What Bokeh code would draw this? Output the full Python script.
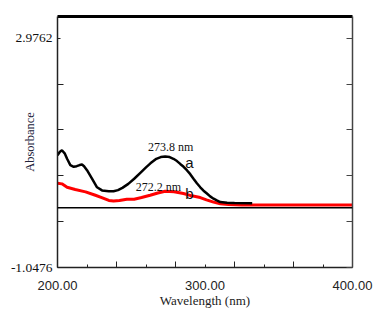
from bokeh.plotting import figure
from bokeh.models import (LinearAxis, FixedTicker, Span, ColumnDataSource, Range1d)
from bokeh.core.properties import value
from bokeh.embed import file_html
from bokeh.resources import INLINE

# Spectrum a (black)
wl_a = [200, 201.5, 203, 205, 206.5, 208.7, 211, 213, 215, 216.6, 218, 220, 223.4, 226.8,
        230.2, 234.8, 238, 241, 244, 248, 252, 256, 260, 263, 267, 270, 273, 276, 278.6,
        281, 283.2, 285.5, 287.7, 290, 292.2, 294.5, 296.8, 299, 301.3, 303.5, 305.8, 308,
        310.4, 315, 320, 332]
abs_a = [0.92, 0.98, 1.01, 0.95, 0.86, 0.75, 0.72, 0.73, 0.75, 0.76, 0.73, 0.66, 0.51, 0.36,
         0.305, 0.29, 0.29, 0.31, 0.35, 0.42, 0.51, 0.61, 0.71, 0.78, 0.86, 0.89, 0.90, 0.89,
         0.86, 0.82, 0.77, 0.72, 0.66, 0.59, 0.51, 0.43, 0.36, 0.30, 0.25, 0.20, 0.16, 0.13,
         0.10, 0.09, 0.085, 0.08]

# Spectrum b (red)
wl_b = [200, 203, 206.5, 212, 219, 225.7, 230, 234.8, 238, 242, 247, 252, 257, 262.8, 268,
        273, 279, 285.4, 291, 296.8, 301, 305.8, 310.4, 316, 325, 350, 375, 400]
abs_b = [0.43, 0.42, 0.36, 0.32, 0.28, 0.22, 0.18, 0.13, 0.12, 0.13, 0.15, 0.15, 0.18, 0.22,
         0.26, 0.29, 0.28, 0.25, 0.21, 0.18, 0.14, 0.10, 0.07, 0.06, 0.05, 0.05, 0.05, 0.05]

y_labelled = [-1.0476, 2.9762]
y_labels = {-1.0476: "-1.0476", 2.9762: "2.9762"}
y_inner = [-0.2429, 0.5619, 1.3667, 2.1714]
x_labelled = [200, 300, 400]
x_long = [240, 280, 320, 360]
x_short = [220, 260, 340, 380]
x_labels = {200: "200.00", 300: "300.00", 400: "400.00"}

# peak annotations
ann_text = ["273.8 nm", "272.2 nm"]
ann_x = [276.7, 268.5]
ann_y = [1.06, 0.37]
tag_text = ["a", "b"]
tag_x = [289.5, 289.5]
tag_y = [0.79, 0.25]

p = figure(width=377, height=312, output_backend="svg", toolbar_location=None,
           x_range=Range1d(200, 400), y_range=Range1d(-1.0476, 3.357),
           x_axis_location=None, y_axis_location=None,
           min_border_left=57, min_border_right=25, min_border_top=16, min_border_bottom=45)
p.grid.visible = False
p.outline_line_color = None
p.background_fill_color = "white"
p.border_fill_color = "white"

# bottom axis 1: axis line + long ticks (no labels)
xb = LinearAxis(ticker=FixedTicker(ticks=[], minor_ticks=x_long))
xb.minor_tick_in = 6
xb.minor_tick_out = 0
xb.major_tick_in = 0
xb.major_tick_out = 0
xb.major_label_standoff = 0
xb.axis_line_width = 1.5
xb.axis_line_color = "#222222"
xb.minor_tick_line_color = "#222222"
p.add_layout(xb, "below")

# bottom axis 2: short ticks + labels + title
xa = LinearAxis(ticker=FixedTicker(ticks=x_labelled, minor_ticks=x_short))
xa.major_label_overrides = x_labels
xa.major_tick_in = 3
xa.major_tick_out = 0
xa.minor_tick_in = 3
xa.minor_tick_out = 0
xa.axis_line_color = None
xa.major_tick_line_color = "#222222"
xa.minor_tick_line_color = "#222222"
xa.major_label_standoff = 13
xa.major_label_text_font = "Liberation Sans"
xa.major_label_text_font_size = "13px"
xa.major_label_text_color = "#222222"
xa.axis_label = "Wavelength (nm)"
xa.axis_label_text_font = "Liberation Serif"
xa.axis_label_text_font_style = "normal"
xa.axis_label_text_font_size = "13px"
xa.axis_label_text_color = "#222222"
xa.axis_label_standoff = 0
p.add_layout(xa, "below")

# left axis
ya = LinearAxis(ticker=FixedTicker(ticks=y_labelled, minor_ticks=y_inner))
ya.major_label_overrides = y_labels
ya.major_tick_in = 3
ya.major_tick_out = 0
ya.minor_tick_in = 6
ya.minor_tick_out = 0
ya.axis_line_width = 1.5
ya.axis_line_color = "#222222"
ya.major_tick_line_color = "#222222"
ya.minor_tick_line_color = "#222222"
ya.major_label_standoff = 5
ya.major_label_text_font = "Liberation Serif"
ya.major_label_text_font_size = "13.5px"
ya.major_label_text_color = "#111111"
ya.axis_label = "Absorbance"
ya.axis_label_text_font = "Liberation Serif"
ya.axis_label_text_font_style = "normal"
ya.axis_label_text_font_size = "12.5px"
ya.axis_label_text_color = "#22223a"
ya.axis_label_standoff = -29
p.add_layout(ya, "left")

# right axis (ticks only)
ra = LinearAxis(ticker=FixedTicker(ticks=[], minor_ticks=y_inner + y_labelled))
ra.minor_tick_in = 6
ra.minor_tick_out = 0
ra.major_tick_in = 0
ra.major_tick_out = 0
ra.axis_line_width = 1.5
ra.axis_line_color = "#444444"
ra.minor_tick_line_color = "#444444"
ra.major_label_standoff = 0
p.add_layout(ra, "right")

# top axis: thick line only
ta = LinearAxis(ticker=FixedTicker(ticks=[], minor_ticks=[]))
ta.major_tick_in = 0
ta.major_tick_out = 0
ta.minor_tick_in = 0
ta.minor_tick_out = 0
ta.axis_line_width = 3
ta.axis_line_color = "black"
ta.major_label_standoff = 0
p.add_layout(ta, "above")

# baseline
p.add_layout(Span(location=0, dimension="width", line_color="black", line_width=1.5))

p.line(wl_b, abs_b, line_color="#ff0000", line_width=3)
p.line(wl_a, abs_a, line_color="black", line_width=2.5)

ann = ColumnDataSource(dict(x=ann_x, y=ann_y, t=ann_text))
p.text("x", "y", text="t", source=ann, text_font=value("Liberation Serif"),
       text_font_size="12px", text_align="center", text_baseline="alphabetic",
       text_color="#111111")
tags = ColumnDataSource(dict(x=tag_x, y=tag_y, t=tag_text))
p.text("x", "y", text="t", source=tags, text_font=value("Liberation Sans"),
       text_font_size="15px", text_align="center", text_baseline="alphabetic",
       text_color="#111111")

open("out.html", "w").write(file_html(p, INLINE))
